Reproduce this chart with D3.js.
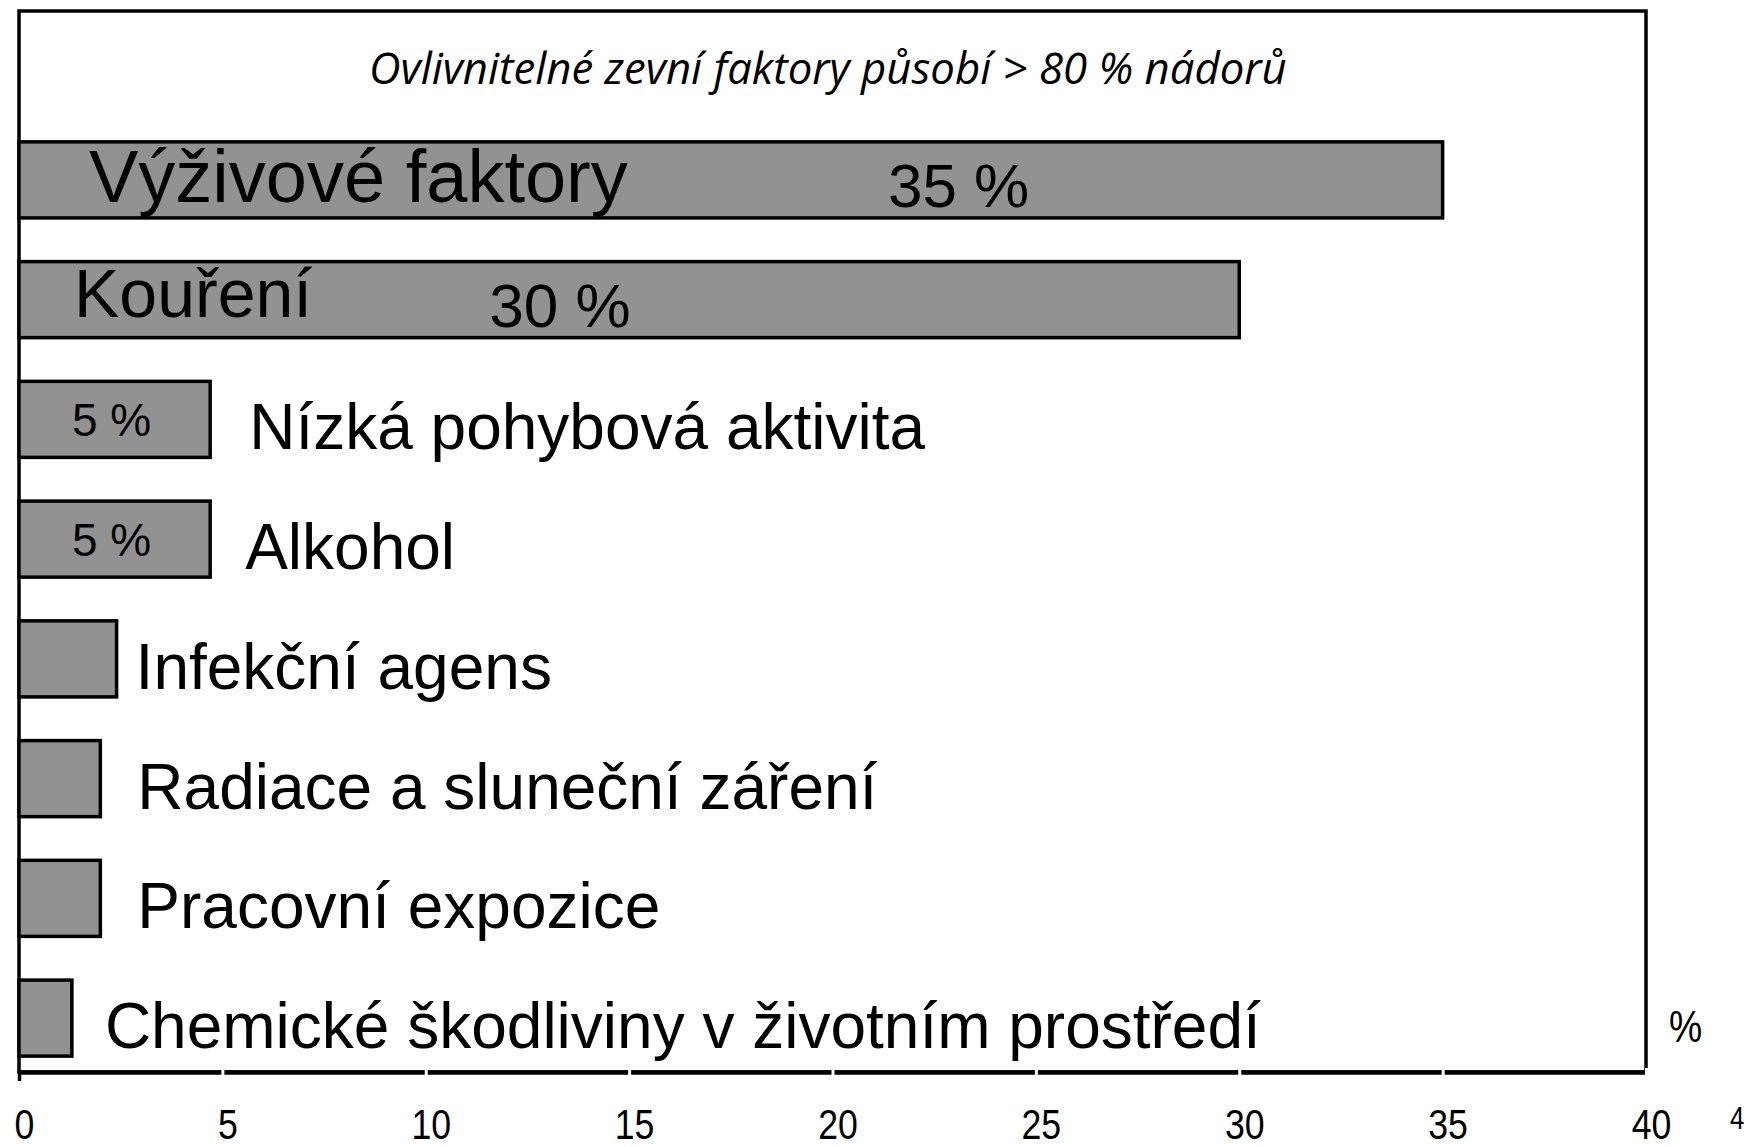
<!DOCTYPE html>
<html>
<head>
<meta charset="utf-8">
<script src="https://cdn.jsdelivr.net/npm/d3@7"></script>
<style>
  body { margin: 0; background: #fff; }
  svg { display: block; }
  text { font-family: "Liberation Sans", Arial, sans-serif; fill: #000; }
</style>
</head>
<body>
<div id="chart"></div>
<script>
"use strict";

const width = 1747,
      height = 1147;

// data
const factors = [
  "Výživové faktory",
  "Kouření",
  "Nízká pohybová aktivita",
  "Alkohol",
  "Infekční agens",
  "Radiace a sluneční záření",
  "Pracovní expozice",
  "Chemické škodliviny v životním prostředí"
];
const shares = [35, 30, 4.7, 4.7, 2.4, 2.0, 2.0, 1.3];
const shareLabels = ["35 %", "30 %", "5 %", "5 %", "", "", "", ""];
const xTicks = [0, 5, 10, 15, 20, 25, 30, 35, 40];
const title = "Ovlivnitelné zevní faktory působí > 80 % nádorů";
const unitLabel = "%";
const strayTick = "4";

// layout
const frame = { left: 19, top: 11, right: 1646, bottom: 1072 };
const insideCount = 2;              // first bars carry their name inside
const insideNameSize = [74, 68];
const insideNameDx = [70, 55];
const insideNameDy = [22, 17];
const insideValueAt = [23.1, 13.3]; // in axis units
const outsideGap = [0, 0, 39, 35, 19, 37, 37, 33];
const bigValueSize = 62,
      smallValueSize = 46,
      outsideNameSize = 64;

const svg = d3.select("#chart")
  .append("svg")
  .attr("width", width)
  .attr("height", height)
  .attr("viewBox", `0 0 ${width} ${height}`);

const x = d3.scaleLinear()
  .domain([0, 40])
  .range([frame.left, frame.right]);

const y = d3.scaleBand()
  .domain(factors)
  .range([82, 1116])
  .paddingInner(0.365)
  .paddingOuter(0.5);

// frame
svg.append("rect")
  .attr("x", frame.left)
  .attr("y", frame.top)
  .attr("width", frame.right - frame.left)
  .attr("height", frame.bottom - frame.top)
  .attr("fill", "none")
  .attr("stroke", "#000")
  .attr("stroke-width", 3.5);

// title
const titleText = svg.append("text")
  .attr("x", 369)
  .attr("y", 84)
  .style("font-family", "'Open Sans', 'Noto Sans', sans-serif")
  .style("font-style", "italic")
  .style("font-size", "40px")
  .text(title);
const tw = titleText.node().getComputedTextLength();
titleText.style("font-size", (40 * 918 / tw) + "px");

// bars
const rows = factors.map((f, i) => ({ name: f, value: shares[i], label: shareLabels[i], i: i }));

svg.selectAll("rect.bar")
  .data(rows)
  .join("rect")
    .attr("class", "bar")
    .attr("x", x(0))
    .attr("y", d => y(d.name))
    .attr("width", d => x(d.value) - x(0))
    .attr("height", y.bandwidth())
    .attr("fill", "#929292")
    .attr("stroke", "#000")
    .attr("stroke-width", 3.5);

const mid = d => y(d.name) + y.bandwidth() / 2;

// names
svg.selectAll("text.name")
  .data(rows)
  .join("text")
    .attr("class", "name")
    .attr("x", d => d.i < insideCount ? x(0) + insideNameDx[d.i] : x(d.value) + outsideGap[d.i])
    .attr("y", d => d.i < insideCount ? mid(d) + insideNameDy[d.i] : mid(d) + 30)
    .style("font-size", d => (d.i < insideCount ? insideNameSize[d.i] : outsideNameSize) + "px")
    .text(d => d.name);

// value labels
svg.selectAll("text.value")
  .data(rows.filter(d => d.label))
  .join("text")
    .attr("class", "value")
    .attr("text-anchor", "middle")
    .attr("x", d => d.i < insideCount ? x(insideValueAt[d.i]) : (x(0) + x(d.value)) / 2 - 3)
    .attr("y", d => d.i < insideCount ? mid(d) + 27 : mid(d) + 17)
    .style("font-size", d => (d.i < insideCount ? bigValueSize : smallValueSize) + "px")
    .text(d => d.label);

// axis
const axis = svg.append("g")
  .attr("transform", `translate(0,${frame.bottom})`)
  .call(d3.axisBottom(x).tickValues(xTicks).tickSize(0).tickSizeOuter(0));

axis.select(".domain")
  .attr("stroke", "#000")
  .attr("stroke-width", 4.5);

axis.selectAll(".tick line")
  .attr("y1", d => d === 0 ? -2 : -4)
  .attr("y2", d => d === 0 ? 9 : 4)
  .attr("stroke", d => d === 0 ? "#000" : "#fff")
  .attr("stroke-width", d => d === 0 ? 3.5 : 3);

axis.selectAll(".tick text")
  .attr("y", 67)
  .attr("dy", 0)
  .attr("x", 0)
  .attr("transform", "translate(5,0) scale(0.83,1)")
  .style("font-family", "'Liberation Sans', Arial, sans-serif")
  .style("font-size", "43px")
  .attr("fill", "#000");

// unit label and the stray tick at the right edge
svg.append("text")
  .attr("transform", `translate(${frame.right + 23},1042) scale(0.83,1)`)
  .style("font-size", "45px")
  .text(unitLabel);

svg.append("text")
  .attr("transform", `translate(${frame.right + 84},1129) scale(0.83,1)`)
  .style("font-size", "31px")
  .text(strayTick);
</script>
</body>
</html>
